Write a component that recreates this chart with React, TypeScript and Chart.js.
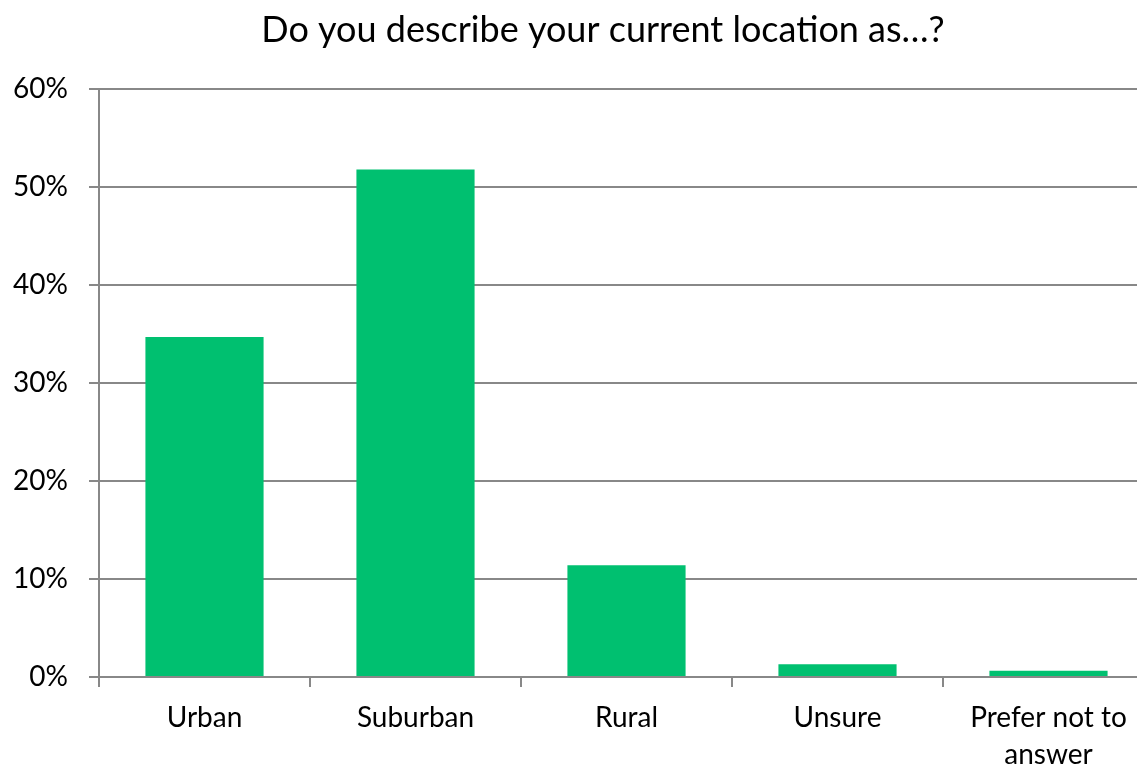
import React, { useEffect, useRef } from "react";
import { Chart, registerables } from "chart.js";

Chart.register(...registerables);

const categories: (string | string[])[] = ["Urban", "Suburban", "Rural", "Unsure", ["Prefer not to", "answer"]];
const values: number[] = [34.7, 51.8, 11.4, 1.3, 0.65];
const yTicks: number[] = [0, 10, 20, 30, 40, 50, 60];

const FONT = "Lato, 'Open Sans', sans-serif";

export default function App() {
  const ref = useRef<HTMLCanvasElement | null>(null);
  useEffect(() => {
    if (!ref.current) return;
    const chart = new Chart(ref.current, {
      type: "bar",
      data: {
        labels: categories,
        datasets: [
          {
            data: values,
            backgroundColor: "#00C070",
            borderWidth: 0,
            barPercentage: 0.56,
            categoryPercentage: 1,
          },
        ],
      },
      options: {
        responsive: false,
        animation: false,
        layout: { padding: { left: 0, right: 0, top: 9, bottom: 0 } },
        plugins: {
          legend: { display: false },
          tooltip: { enabled: false },
          title: {
            display: true,
            text: "Do you describe your current location as…?",
            color: "#000",
            font: { family: FONT, size: 36, weight: "normal" },
            padding: { top: 0, bottom: 37 },
          },
        },
        scales: {
          x: {
            offset: true,
            afterFit: (s: any) => {
              s.height = 93;
            },
            grid: {
              offset: true,
              drawOnChartArea: false,
              drawTicks: true,
              tickLength: 10,
              color: "#888",
              lineWidth: 2,
            },
            border: { display: true, color: "#888", width: 2 },
            ticks: {
              color: "#000",
              font: { family: FONT, size: 28, lineHeight: 1.3 },
              maxRotation: 0,
              autoSkip: false,
              padding: 13,
            },
          },
          y: {
            min: 0,
            max: 60,
            afterFit: (s: any) => {
              s.width = 99;
            },
            afterBuildTicks: (axis: any) => {
              axis.ticks = yTicks.map((v) => ({ value: v }));
            },
            grid: {
              color: "#888",
              lineWidth: 2,
              tickLength: 10,
            },
            border: { display: true, color: "#888", width: 2 },
            ticks: {
              color: "#000",
              font: { family: FONT, size: 28 },
              padding: 21,
              callback: (v: any) => v + "%",
            },
          },
          spacer: {
            type: "linear",
            position: "right",
            display: true,
            afterFit: (s: any) => {
              s.width = 52;
            },
            grid: { display: false, drawTicks: false },
            border: { display: false },
            ticks: { display: false },
          },
        },
      },
    });
    return () => chart.destroy();
  }, []);
  return (
    <div style={{ position: "fixed", left: 0, top: 0, width: 1137, height: 770, overflow: "hidden", background: "#fff" }}>
      <canvas ref={ref} width={1206} height={770} style={{ display: "block" }} />
    </div>
  );
}
